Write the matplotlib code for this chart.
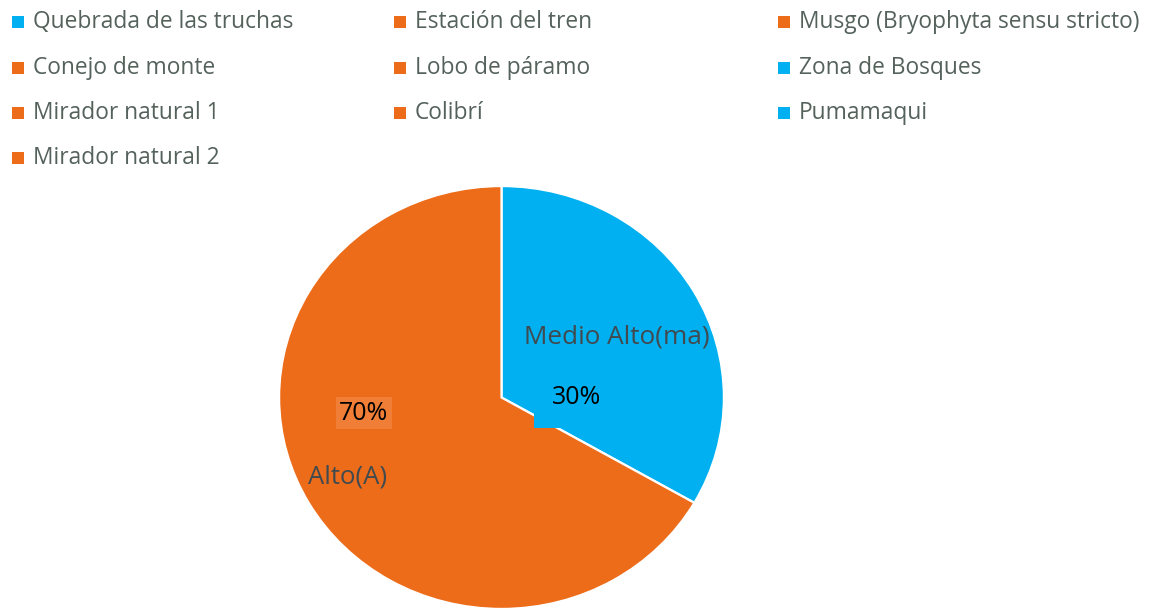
import matplotlib
matplotlib.use("Agg")
import matplotlib.pyplot as plt
from matplotlib.patches import Rectangle

# ---- data ----
legend_labels = ["Quebrada de las truchas", "Estación del tren", "Musgo (Bryophyta sensu stricto)",
                 "Conejo de monte", "Lobo de páramo", "Zona de Bosques",
                 "Mirador natural 1", "Colibrí", "Pumamaqui",
                 "Mirador natural 2"]
legend_groups = ["ma", "A", "A",
                 "A", "A", "ma",
                 "A", "A", "ma",
                 "A"]
slice_names = ["Medio Alto(ma)", "Alto(A)"]
slice_keys = ["ma", "A"]
slice_values = [33.3, 66.7]
slice_pct_labels = ["30%", "70%"]

# ---- style ----
W, H = 1160, 609
BLUE = "#00B0F0"
ORANGE = "#ED6C1A"
colors = {"ma": BLUE, "A": ORANGE}
LEG_TXT = "#55625C"
LBL_TXT = "#404A4F"
FONT = ["Open Sans", "DejaVu Sans"]
plt.rcParams["font.family"] = FONT

fig = plt.figure(figsize=(W / 100, H / 100), dpi=100)
fig.patch.set_facecolor("white")


def px(x, y):
    return x / W, 1 - y / H


# pie axes: ellipse spans x 278..725, y 185..609
left, right, top, bottom = 278, 725, 185, 610
ax = fig.add_axes([left / W, 1 - bottom / H, (right - left) / W, (bottom - top) / H])
ax.pie(slice_values, colors=[colors[k] for k in slice_keys], startangle=90,
       counterclock=False, radius=1.0,
       wedgeprops=dict(edgecolor="white", linewidth=1.6))
ax.set_aspect("auto")
ax.set_xlim(-1.005, 1.005)
ax.set_ylim(-1.005, 1.005)
ax.axis("off")

# legend (3 columns, row-major)
col_x = [12, 394, 778]
row_y = [22, 68, 113, 158]
for i, (lab, g) in enumerate(zip(legend_labels, legend_groups)):
    r, c = divmod(i, 3)
    x0, y0 = col_x[c], row_y[r]
    fx, fy = px(x0, y0 + 6)
    fig.patches.append(Rectangle((fx, fy), 12 / W, 12 / H, transform=fig.transFigure,
                                 facecolor=colors[g], edgecolor="none"))
    tx, ty = px(x0 + 21, y0)
    fig.text(tx, ty, lab, fontsize=16.4, color=LEG_TXT, va="center", ha="left")

# slice labels
name_pos = {"ma": (617, 337), "A": (348, 477)}
name_size = {"ma": 18.8, "A": 18.5}
pct_pos = {"ma": (577, 397), "A": (364, 413)}
pct_box = {"ma": BLUE, "A": "#F07E36"}
for name, key, pct in zip(slice_names, slice_keys, slice_pct_labels):
    x, y = px(*name_pos[key])
    fig.text(x, y, name, fontsize=name_size[key], color=LBL_TXT, ha="center", va="center")
    x, y = px(*pct_pos[key])
    pad = 0.75 if key == "ma" else 0.15
    fig.text(x, y, pct, fontsize=18, color="black", ha="center", va="center",
             bbox=dict(boxstyle=f"square,pad={pad}", facecolor=pct_box[key], edgecolor="none"))

fig.savefig("out.png", dpi=100, facecolor="white")
